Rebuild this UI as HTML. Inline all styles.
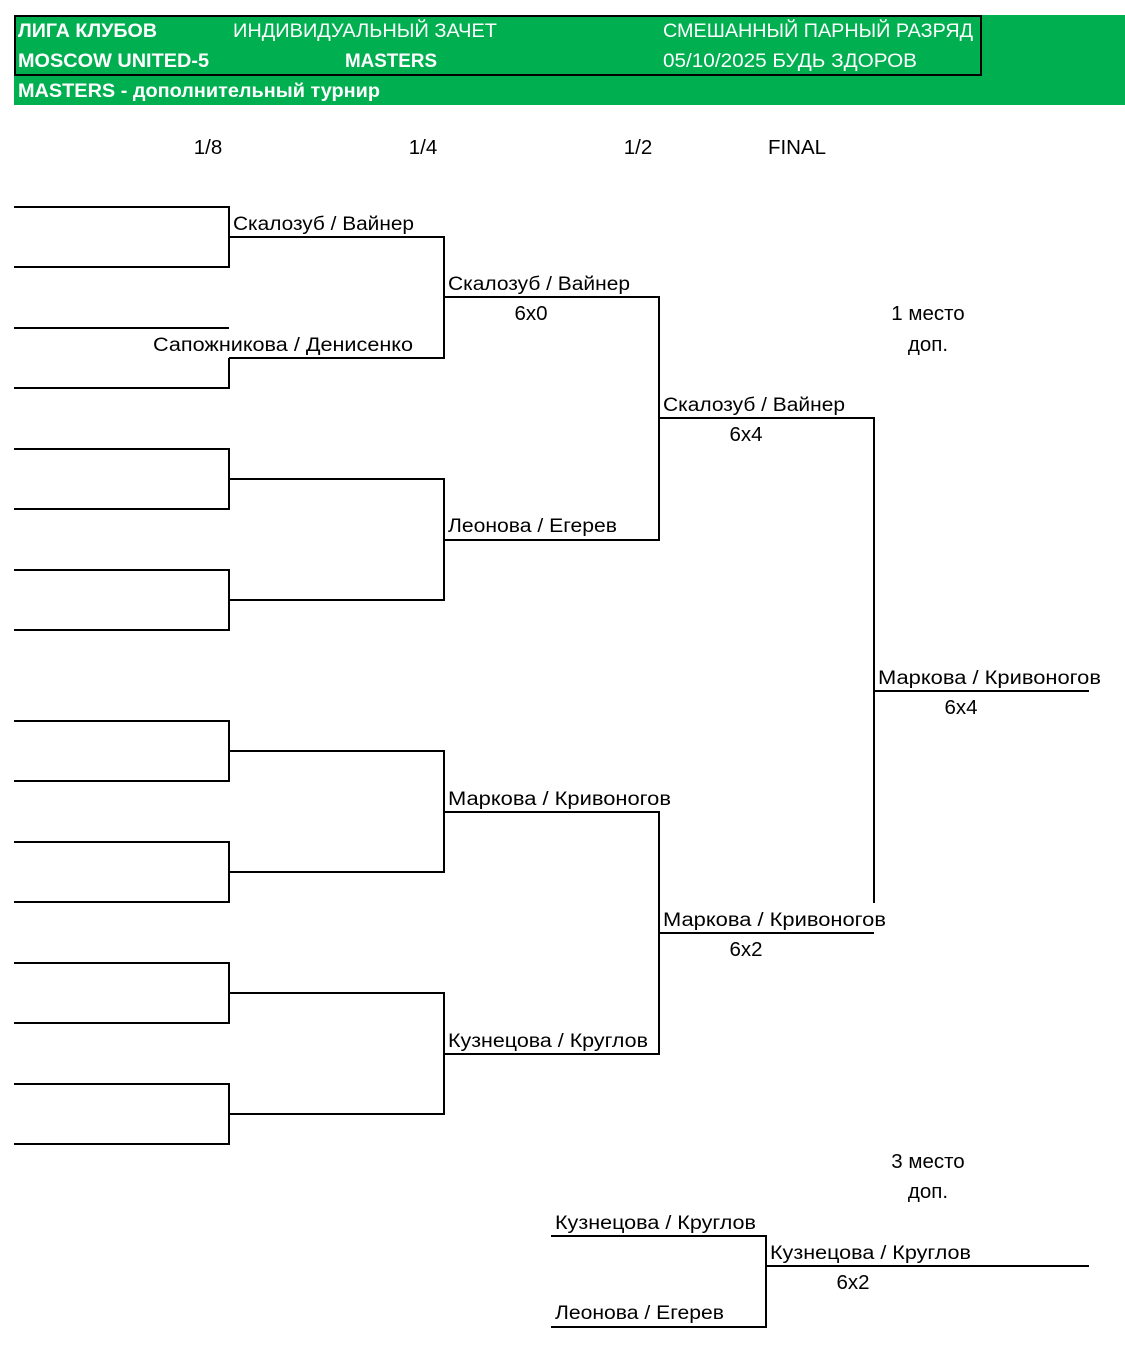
<!DOCTYPE html>
<html><head><meta charset="utf-8"><style>
html,body{margin:0;padding:0;background:#fff;}
svg{display:block;}
text{font-family:"Liberation Sans","DejaVu Sans",sans-serif;font-size:19px;fill:#000;}
.h{fill:#fff;font-size:19px;}
.b{font-weight:bold;}
.c text{font-size:20.5px;}
</style></head><body>
<svg width="1125" height="1353" viewBox="0 0 1125 1353" xmlns="http://www.w3.org/2000/svg">
<rect x="14" y="15" width="1111" height="90" fill="#00B050"/>
<rect x="15" y="16" width="966" height="59" fill="none" stroke="#000" stroke-width="2"/>
<text class="h b" x="18" y="37" textLength="139" lengthAdjust="spacingAndGlyphs">ЛИГА КЛУБОВ</text>
<text class="h" x="233" y="37" textLength="264" lengthAdjust="spacingAndGlyphs">ИНДИВИДУАЛЬНЫЙ ЗАЧЕТ</text>
<text class="h" x="663" y="37" textLength="310" lengthAdjust="spacingAndGlyphs">СМЕШАННЫЙ ПАРНЫЙ РАЗРЯД</text>
<text class="h b" x="18" y="67" textLength="191" lengthAdjust="spacingAndGlyphs">MOSCOW UNITED-5</text>
<text class="h b" x="345" y="67" textLength="92" lengthAdjust="spacingAndGlyphs">MASTERS</text>
<text class="h" x="663" y="67" textLength="254" lengthAdjust="spacingAndGlyphs">05/10/2025 БУДЬ ЗДОРОВ</text>
<text class="h b" x="18" y="97" textLength="362" lengthAdjust="spacingAndGlyphs">MASTERS - дополнительный  турнир</text>

<g text-anchor="middle" class="c">
<text x="208" y="154">1/8</text>
<text x="423" y="154">1/4</text>
<text x="638" y="154">1/2</text>
<text x="797" y="154">FINAL</text>
<text x="928" y="320">1 место</text>
<text x="928" y="351">доп.</text>
<text x="928" y="1168">3 место</text>
<text x="928" y="1198">доп.</text>
<text x="531" y="320">6x0</text>
<text x="746" y="441">6x4</text>
<text x="746" y="956">6x2</text>
<text x="961" y="714">6x4</text>
<text x="853" y="1289">6x2</text>
</g>

<g stroke="#000" stroke-width="2" fill="none">
<path d="M14 207H229V267H14"/>
<path d="M14 328H229"/>
<path d="M229 358V388H14"/>
<path d="M14 449H229V509H14"/>
<path d="M14 570H229V630H14"/>
<path d="M14 721H229V781H14"/>
<path d="M14 842H229V902H14"/>
<path d="M14 963H229V1023H14"/>
<path d="M14 1084H229V1144H14"/>
<path d="M229 237H444V358H229"/>
<path d="M229 479H444V600H229"/>
<path d="M229 751H444V872H229"/>
<path d="M229 993H444V1114H229"/>
<path d="M444 297H659V540H444"/>
<path d="M444 812H659V1054H444"/>
<path d="M659 418H874V903"/>
<path d="M659 933H874"/>
<path d="M874 691H1089"/>
<path d="M551 1236H766V1327H551"/>
<path d="M766 1266H1089"/>
</g>

<text x="233" y="230" textLength="181" lengthAdjust="spacingAndGlyphs">Скалозуб / Вайнер</text>
<text x="153" y="351" textLength="260" lengthAdjust="spacingAndGlyphs">Сапожникова / Денисенко</text>
<text x="448" y="290" textLength="182" lengthAdjust="spacingAndGlyphs">Скалозуб / Вайнер</text>
<text x="448" y="532" textLength="169" lengthAdjust="spacingAndGlyphs">Леонова / Егерев</text>
<text x="448" y="805" textLength="223" lengthAdjust="spacingAndGlyphs">Маркова / Кривоногов</text>
<text x="448" y="1047" textLength="200" lengthAdjust="spacingAndGlyphs">Кузнецова / Круглов</text>
<text x="663" y="411" textLength="182" lengthAdjust="spacingAndGlyphs">Скалозуб / Вайнер</text>
<text x="663" y="926" textLength="223" lengthAdjust="spacingAndGlyphs">Маркова / Кривоногов</text>
<text x="878" y="684" textLength="223" lengthAdjust="spacingAndGlyphs">Маркова / Кривоногов</text>
<text x="555" y="1229" textLength="201" lengthAdjust="spacingAndGlyphs">Кузнецова / Круглов</text>
<text x="555" y="1319" textLength="169" lengthAdjust="spacingAndGlyphs">Леонова / Егерев</text>
<text x="770" y="1259" textLength="201" lengthAdjust="spacingAndGlyphs">Кузнецова / Круглов</text>
</svg>
</body></html>
